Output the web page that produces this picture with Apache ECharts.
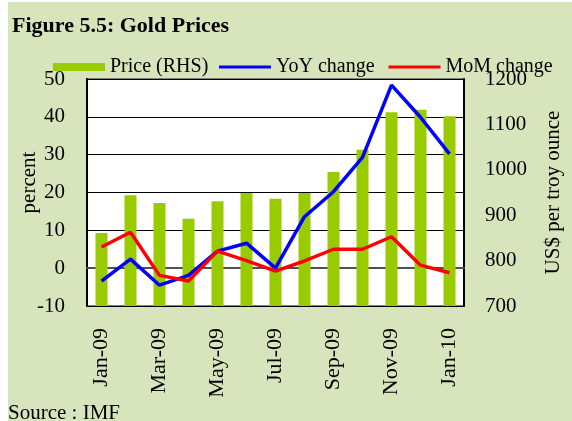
<!DOCTYPE html>
<html>
<head>
<meta charset="utf-8">
<script src="https://cdn.jsdelivr.net/npm/echarts@6/dist/echarts.min.js"></script>
<style>
  html, body { margin: 0; padding: 0; background: #fff; }
  #chart { width: 572px; height: 421px; }
</style>
</head>
<body>
<div id="chart"></div>
<script>
// monthly data
const months = ['Jan-09', 'Feb-09', 'Mar-09', 'Apr-09', 'May-09', 'Jun-09', 'Jul-09',
  'Aug-09', 'Sep-09', 'Oct-09', 'Nov-09', 'Dec-09', 'Jan-10']
const price = [861, 944, 927, 892, 931, 949, 936, 949, 995, 1044, 1127, 1132, 1118]
const yoy = [-3.4, 2.4, -4.5, -1.9, 4.5, 6.6, 0.0, 13.6, 20.2, 29.3, 48.4, 39.9, 30.2]
const mom = [5.6, 9.5, -1.9, -3.4, 4.5, 2.0, -0.8, 1.9, 5.0, 5.0, 8.3, 0.8, -1.2]
const leftTicks = [-10, 50, 10]
const rightTicks = [700, 1200, 100]

const font = "'Liberation Serif', 'Times New Roman', serif"
const chart = echarts.init(document.getElementById('chart'))

chart.setOption({
  backgroundColor: '#d8e4bc',
  textStyle: { fontFamily: font, color: '#000' },
  title: {
    text: 'Figure 5.5: Gold Prices',
    left: 12,
    top: 15,
    padding: 0,
    textStyle: { fontFamily: font, fontSize: 22, fontWeight: 'bold', color: '#000' }
  },
  graphic: [
    { type: 'rect', left: 0, top: 0, shape: { width: 8, height: 421 }, style: { fill: '#fff' } },
    { type: 'rect', left: 0, top: 0, shape: { width: 572, height: 2 }, style: { fill: '#fff' } },
    {
      type: 'text', left: 8, top: 403,
      style: { text: 'Source : IMF', font: '21px ' + font, fill: '#000' }
    }
  ],
  legend: [
    {
      data: ['Price (RHS)'],
      left: 53, top: 57, padding: 0,
      itemWidth: 52, itemHeight: 8, itemGap: 5,
      icon: 'rect',
      textStyle: { fontFamily: font, fontSize: 20, color: '#000' }
    },
    {
      data: ['YoY change', 'MoM change'],
      left: 219, top: 57, padding: 0,
      itemWidth: 52, itemHeight: 3, itemGap: 14,
      icon: 'rect',
      textStyle: { fontFamily: font, fontSize: 20, color: '#000' }
    }
  ],
  grid: {
    left: 87, right: 94, top: 79, bottom: 115,
    show: true, backgroundColor: '#fff', borderColor: '#808080', borderWidth: 2
  },
  xAxis: {
    type: 'category',
    data: months,
    axisTick: { show: false },
    axisLine: { lineStyle: { color: '#505050', width: 2 } },
    axisLabel: {
      interval: 1, rotate: 90, margin: 22,
      fontFamily: font, fontSize: 22, color: '#000'
    }
  },
  yAxis: [
    {
      type: 'value',
      min: leftTicks[0], max: leftTicks[1], interval: leftTicks[2],
      name: 'percent',
      nameLocation: 'middle',
      nameGap: 47,
      nameMoveOverlap: false,
      nameTextStyle: { fontFamily: font, fontSize: 21, color: '#000', padding: [0, 0, 0, 20] },
      axisLine: { show: true, lineStyle: { color: '#000', width: 2 } },
      axisTick: { show: false },
      axisLabel: { margin: 22, fontFamily: font, fontSize: 21, color: '#000' },
      splitLine: { lineStyle: { color: '#000', width: 1.2 } }
    },
    {
      type: 'value',
      min: rightTicks[0], max: rightTicks[1], interval: rightTicks[2],
      name: 'US$ per troy ounce',
      nameLocation: 'middle',
      nameGap: 79,
      nameMoveOverlap: false,
      nameTextStyle: { fontFamily: font, fontSize: 21, color: '#000' },
      axisLine: { show: true, lineStyle: { color: '#000', width: 2 } },
      axisTick: { show: false },
      axisLabel: {
        margin: 21, fontFamily: font, fontSize: 21, color: '#000',
        formatter: (v) => String(v)
      },
      splitLine: { show: false }
    }
  ],
  series: [
    {
      name: 'Price (RHS)',
      type: 'bar',
      yAxisIndex: 1,
      barWidth: 12,
      data: price,
      itemStyle: { color: '#99cc00' }
    },
    {
      name: 'YoY change',
      type: 'line',
      data: yoy,
      showSymbol: false,
      lineStyle: { color: '#0000ff', width: 3.5 },
      itemStyle: { color: '#0000ff' }
    },
    {
      name: 'MoM change',
      type: 'line',
      data: mom,
      showSymbol: false,
      lineStyle: { color: '#ff0000', width: 3.5 },
      itemStyle: { color: '#ff0000' }
    }
  ]
})
</script>
</body>
</html>
